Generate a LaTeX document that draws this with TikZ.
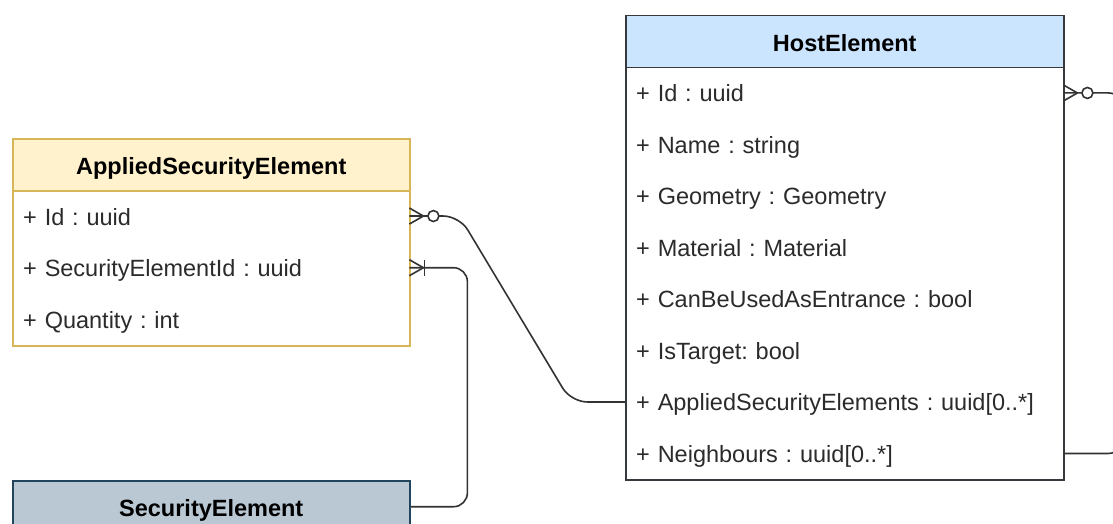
\documentclass[tikz,border=0pt]{standalone}
\usepackage{fontspec}
\setmainfont{Liberation Sans}
\frenchspacing
\definecolor{asefill}{HTML}{FFF2CC}
\definecolor{asestroke}{HTML}{D6B656}
\definecolor{hefill}{HTML}{CCE5FF}
\definecolor{hestroke}{HTML}{36393D}
\definecolor{sefill}{HTML}{BAC8D3}
\definecolor{sestroke}{HTML}{23445D}
\definecolor{bodytext}{HTML}{2B2B2B}
\definecolor{linec}{HTML}{333333}
\begin{document}
\frenchspacing
\begin{tikzpicture}[x=1pt,y=-1pt,
  outline/.style={draw, line width=1.5pt, fill=white, anchor=north west, inner sep=0pt},
  hdr/.style={draw, line width=1.5pt, anchor=north west, inner sep=0pt, minimum height=52pt,
    font=\fontsize{23.5}{28}\selectfont\bfseries, text height=20pt, text depth=0pt, text=black},
  row/.style={anchor=north west, inner xsep=11pt, inner ysep=0pt, align=left,
    font=\fontsize{23.5}{28}\selectfont, text height=18pt, text depth=0pt, text=bodytext},
  aserow/.style={row, text width=375pt, minimum height=51.67pt},
  herow/.style={row, text width=416pt, minimum height=51.5pt},
  conn/.style={draw=linec, line width=1.6pt},
  crow/.style={draw=linec, line width=1.6pt}
]
\useasboundingbox (0,0) rectangle (1113,524);
\clip (0,0) rectangle (1113,524);

% ---------------- AppliedSecurityElement
\node[outline, draw=asestroke, minimum width=397pt, minimum height=207pt] (ase) at (12,138) {};
\node[hdr, draw=asestroke, fill=asefill, minimum width=397pt] (aseH) at (12,138) {AppliedSecurityElement};
\node[aserow] (aseId) at (12,190) {+ Id : uuid};
\node[aserow] (aseSe) at (12,241.67) {+ SecurityElementId : uuid};
\node[aserow] (aseQ) at (12,293.33) {+ Quantity : int};

% ---------------- HostElement
\node[outline, draw=hestroke, minimum width=438pt, minimum height=464pt] (he) at (625,15) {};
\node[hdr, draw=hestroke, fill=hefill, minimum width=438pt] (heH) at (625,15) {HostElement};
\node[herow] (heId) at (625,67) {+ Id : uuid};
\node[herow] (heName) at (625,118.5) {+ Name : string};
\node[herow] (heGeo) at (625,170) {+ Geometry : Geometry};
\node[herow] (heMat) at (625,221.5) {+ Material : Material};
\node[herow] (heEnt) at (625,273) {+ CanBeUsedAsEntrance : bool};
\node[herow] (heTgt) at (625,324.5) {+ IsTarget: bool};
\node[herow] (heAse) at (625,376) {+ AppliedSecurityElements : uuid[0..*]};
\node[herow] (heNb) at (625,427.5) {+ Neighbours : uuid[0..*]};

% ---------------- SecurityElement
\node[outline, draw=sestroke, minimum width=397pt, minimum height=200pt] (se) at (12,480) {};
\node[hdr, draw=sestroke, fill=sefill, minimum width=397pt] (seH) at (12,480) {SecurityElement};

% ---------------- connectors
\draw[conn, rounded corners=16pt] (aseId.east) -- ++(50,0) -- ([xshift=-54pt]heAse.west) -- (heAse.west);
\draw[conn, rounded corners=14pt] (aseSe.east) -- ++(58,0) |- (seH.east);
\draw[conn, rounded corners=15pt] (heId.east) -- ++(60,0) |- (heNb.east);

% zero-to-many at AppliedSecurityElement.Id
\draw[crow] ([xshift=14pt]aseId.east) -- ([yshift=8pt]aseId.east);
\draw[crow] ([xshift=14pt]aseId.east) -- ([yshift=-8pt]aseId.east);
\draw[crow, fill=white] ([xshift=24pt]aseId.east) circle (5.5pt);

% one-to-many at AppliedSecurityElement.SecurityElementId
\draw[crow] ([xshift=14pt]aseSe.east) -- ([yshift=8pt]aseSe.east);
\draw[crow] ([xshift=14pt]aseSe.east) -- ([yshift=-8pt]aseSe.east);
\draw[crow] ([xshift=15pt,yshift=8pt]aseSe.east) -- ([xshift=15pt,yshift=-8pt]aseSe.east);

% zero-to-many at HostElement.Id
\draw[crow] ([xshift=14pt]heId.east) -- ([yshift=8pt]heId.east);
\draw[crow] ([xshift=14pt]heId.east) -- ([yshift=-8pt]heId.east);
\draw[crow, fill=white] ([xshift=24pt]heId.east) circle (5.5pt);
\end{tikzpicture}
\end{document}
